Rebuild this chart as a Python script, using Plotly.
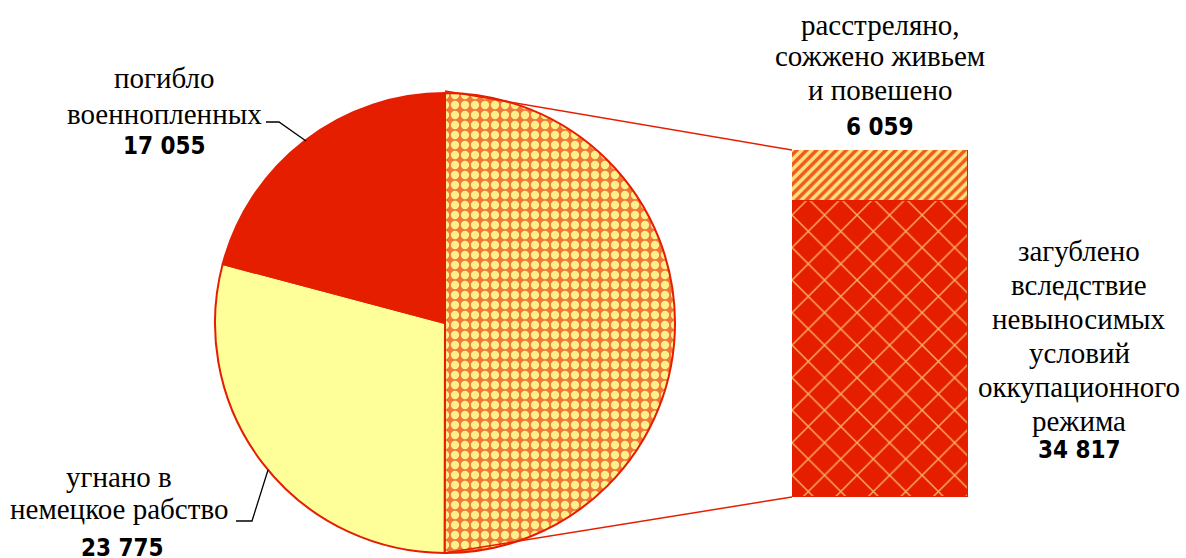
import plotly.graph_objects as go

W, H = 1186, 558

# ---- data ----
bar_labels = ["загублено<br>вследствие<br>невыносимых<br>условий<br>оккупационного<br>режима",
              "расстреляно,<br>сожжено живьем<br>и повешено"]
bar_values = [34817, 6059]
pie_labels = ["прочие", "угнано в<br>немецкое рабство", "погибло<br>военнопленных"]
pie_values = [sum(bar_values), 23775, 17055]

RED = "#E61E00"


def px(x):
    return x / W


def py(y):
    return 1 - y / H


def fmt(v):
    return f"{v:,}".replace(",", " ")


fig = go.Figure()

# pie: centre (445,323), radius 230
cx, cy, r = 445, 323, 230
fig.add_trace(go.Pie(
    values=pie_values, labels=pie_labels, sort=False, direction="clockwise", rotation=0,
    textinfo="none", hoverinfo="none", showlegend=False,
    domain=dict(x=[px(cx - r), px(cx + r)], y=[py(cy + r), py(cy - r)]),
    marker=dict(colors=["#F07A3C", "#FFFF9A", RED],
                line=dict(color=RED, width=2),
                pattern=dict(shape=[".", "", ""], fgcolor=["#FFF08A", "#FFFF9A", RED],
                             bgcolor=["#F0783A", "#FFFF9A", RED], size=10, solidity=0.55,
                             fillmode="replace")),
))

# bar of pie
fig.add_trace(go.Bar(
    x=[0], y=[bar_values[0]], width=1, xaxis="x", yaxis="y", showlegend=False, hoverinfo="none",
    marker=dict(color=RED, line=dict(color=RED, width=1.5),
                pattern=dict(shape="x", fgcolor="#F7AE62", bgcolor=RED, size=23, solidity=0.12,
                             fillmode="replace")),
))
fig.add_trace(go.Bar(
    x=[0], y=[bar_values[1]], width=1, xaxis="x", yaxis="y", showlegend=False, hoverinfo="none",
    marker=dict(color="#EE5A22", line=dict(color=RED, width=1.5),
                pattern=dict(shape="/", fgcolor="#FFE27A", bgcolor="#EE5A22", size=7, solidity=0.5,
                             fillmode="replace")),
))

bx0, bx1, by0, by1 = 792, 968, 150, 497
fig.update_layout(
    width=W, height=H, margin=dict(l=0, r=0, t=0, b=0),
    paper_bgcolor="white", plot_bgcolor="rgba(0,0,0,0)",
    barmode="stack", bargap=0,
    xaxis=dict(domain=[px(bx0), px(bx1)], range=[-0.5, 0.5], visible=False, fixedrange=True),
    yaxis=dict(domain=[py(by1), py(by0)], range=[0, sum(bar_values)], visible=False, fixedrange=True),
)

# connector lines
shapes = [
    dict(type="line", xref="paper", yref="paper", x0=px(445), y0=py(91), x1=px(bx0), y1=py(by0),
         line=dict(color=RED, width=1.5)),
    dict(type="line", xref="paper", yref="paper", x0=px(445), y0=py(553), x1=px(bx0), y1=py(by1),
         line=dict(color=RED, width=1.5)),
]


def path(points):
    s = "M " + " L ".join(f"{px(x)},{py(y)}" for x, y in points)
    return dict(type="path", xref="paper", yref="paper", path=s, line=dict(color="black", width=1.3))


shapes.append(path([(266, 122), (279, 122), (306, 141)]))
shapes.append(path([(236, 521), (252, 521), (268, 470)]))
fig.update_layout(shapes=shapes)

SERIF = "Liberation Serif"
NUM = "DejaVu Sans Condensed"
anns = []


def block(text, x, ys):
    for line, y in zip(text.split("<br>"), ys):
        anns.append(dict(text=line, x=px(x), y=py(y), xref="paper", yref="paper",
                         xanchor="center", yanchor="middle", showarrow=False,
                         font=dict(family=SERIF, size=29, color="black")))


def num(v, x, y):
    anns.append(dict(text=fmt(v), x=px(x), y=py(y), xref="paper", yref="paper",
                     xanchor="center", yanchor="middle", showarrow=False,
                     font=dict(family=NUM, size=24, color="black", weight="bold")))


block(pie_labels[2], 164, [78, 114])
num(pie_values[2], 164, 146)
block(pie_labels[1], 119, [477, 509])
num(pie_values[1], 122, 548)
block(bar_labels[1], 880, [25, 56, 90])
num(bar_values[1], 880, 127)
block(bar_labels[0], 1079, [251, 285, 319, 353, 387, 421])
num(bar_values[0], 1079, 450)

fig.update_layout(annotations=anns)
fig.write_html("out.html", config=dict(displayModeBar=False),
               post_script="document.body.style.margin='0';document.body.style.padding='0';")
